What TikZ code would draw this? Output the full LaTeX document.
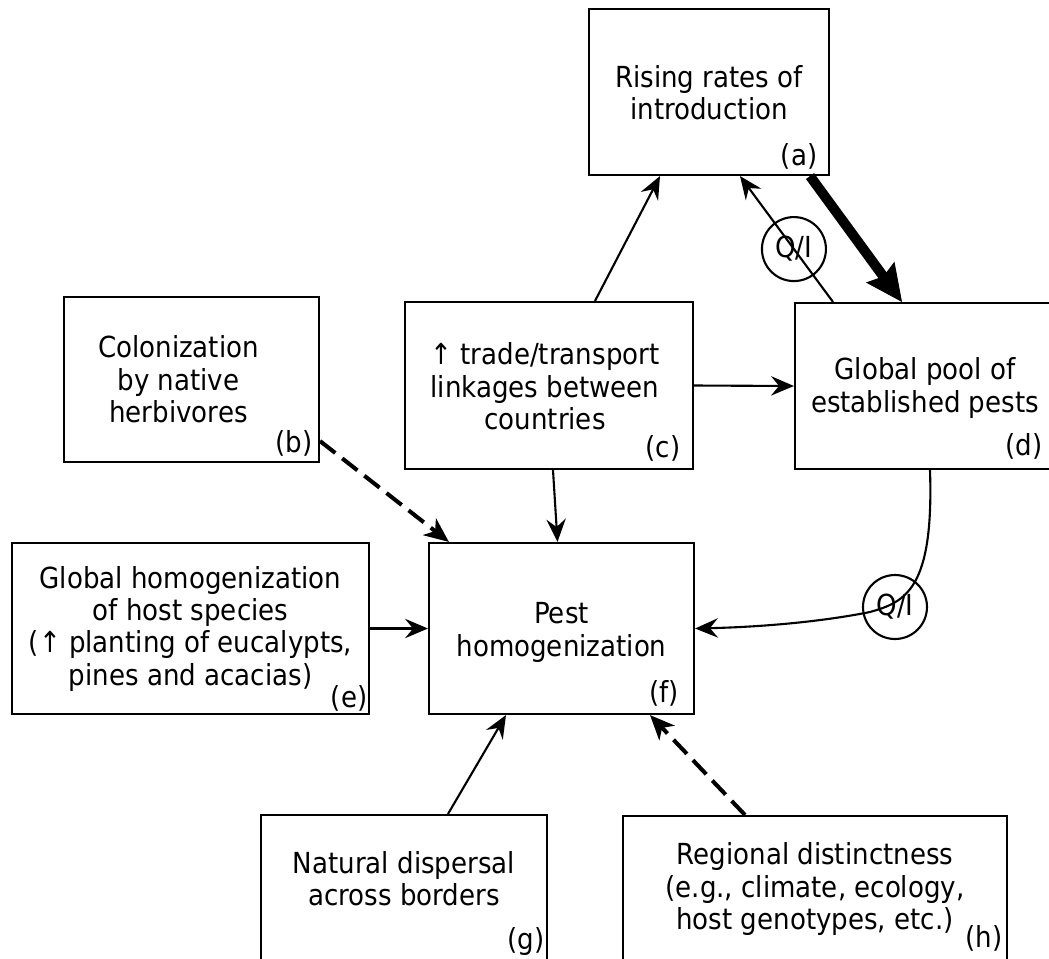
\documentclass[tikz,border=0pt]{standalone}
\usepackage{fontspec}
\setmainfont{DejaVu Sans}[FakeStretch=0.9]
\usetikzlibrary{arrows.meta,positioning}
\newlength\px
\setlength\px{0.02cm}
\newcommand\boxfont{\fontsize{16.5}{18.4}\selectfont}

\begin{document}
\begin{tikzpicture}[x=1\px, y=-1\px,
  every node/.style={font=\boxfont},
  frame/.style={draw, line width=1.2pt, rectangle, inner sep=0pt},
  words/.style={align=center, inner sep=0pt},
  tag/.style={inner sep=0pt},
  qi/.style={draw, circle, line width=1.2pt, minimum size=64\px, inner sep=0pt},
  link/.style={line width=1.2pt, -{Stealth[length=13pt,width=11pt,inset=4.5pt]}},
  weak/.style={line width=2.3pt, dash pattern=on 11pt off 5pt, -{Stealth[length=14pt,width=12pt,inset=4pt]}},
  strong/.style={line width=5.7pt, -{Stealth[length=21pt,width=20pt,inset=3pt,line width=0.5pt]}}]
        \useasboundingbox (0,0) rectangle (1049,958);
        \clip (0,0) rectangle (1049,958);

        % Define boxes
        \node[frame, minimum width=240\px, minimum height=166\px] (a) at (709,92) {};
        \node[frame, minimum width=255\px, minimum height=165\px] (b) at (191.5,379.5) {};
        \node[frame, minimum width=288\px, minimum height=167\px] (c) at (549,385.5) {};
        \node[frame, minimum width=258\px, minimum height=166\px] (d) at (924,386) {};
        \node[frame, minimum width=357\px, minimum height=171\px] (e) at (190.5,628.5) {};
        \node[frame, minimum width=265\px, minimum height=171\px] (f) at (561.5,628.5) {};
        \node[frame, minimum width=286\px, minimum height=147\px] (g) at (404,888.5) {};
        \node[frame, minimum width=384\px, minimum height=146\px] (h) at (815,889) {};

        % Texts in the boxes
        \node[words] (aText) at ([shift={(0,1)}]a) {Rising rates of\\introduction};
        \node[words] (bText) at ([shift={(-13,0)}]b) {Colonization\\by native\\herbivores};
        \node[words] (cText) at ([shift={(-4,1)}]c) {↑ trade/transport\\linkages between\\countries};
        \node[words] (dText) at ([shift={(1,2)}]d) {Global pool of\\established pests};
        \node[words] (eText) at (e) {Global homogenization\\of host species\\(↑ planting of eucalypts,\\pines and acacias)};
        \node[words] (fText) at ([shift={(0,4)}]f) {Pest\\homogenization};
        \node[words] (gText) at ([shift={(0,-10)}]g) {Natural dispersal\\across borders};
        \node[words] (hText) at (h) {Regional distinctness\\(e.g., climate, ecology,\\host genotypes, etc.)};

        % Letters in the corners
        \node[tag] (aTag) at ([shift={(-31,-20)}]a.south east) {(a)};
        \node[tag] (bTag) at ([shift={(-26,-20)}]b.south east) {(b)};
        \node[tag] (cTag) at ([shift={(-31,-22)}]c.south east) {(c)};
        \node[tag] (dTag) at ([shift={(-30,-24)}]d.south east) {(d)};
        \node[tag] (eTag) at ([shift={(-21,-17)}]e.south east) {(e)};
        \node[tag] (fTag) at ([shift={(-31,-22)}]f.south east) {(f)};
        \node[tag] (gTag) at ([shift={(-22,-22)}]g.south east) {(g)};
        \node[tag] (hTag) at ([shift={(-24,-25)}]h.south east) {(h)};

        \path[link]
        % Trade links
        ([shift={(46,0)}]c.north) edge ([shift={(-49,0)}]a.south)
        ([shift={(-91,0)}]d.north) edge node[qi, pos=0.42] (qiA) {Q/I} ([shift={(31,0)}]a.south)
        (c.east) edge (d.west)
        ([shift={(4,0)}]c.south) edge ([shift={(-4,0)}]f.north)
        (e.east) edge (f.west)
        ([shift={(44,0)}]g.north) edge ([shift={(-55.5,0)}]f.south);

        \draw[strong] ([shift={(101,0)}]a.south) -- ([shift={(-22,0)}]d.north);
        \draw[weak] ([shift={(0,-22)}]b.south east) -- ([shift={(21,0)}]f.north west);
        \draw[weak] ([shift={(-70,0)}]h.north) -- ([shift={(88.5,0)}]f.south);

        % Pool back into homogenization
        \draw[link] ([shift={(6,0)}]d.south) .. controls (934,590) and (905,602) .. (870,612)
            .. controls (820,622) and (760,627) .. (f.east);
        \node[qi] (qiB) at (895,607) {Q/I};
    \end{tikzpicture}
\end{document}
